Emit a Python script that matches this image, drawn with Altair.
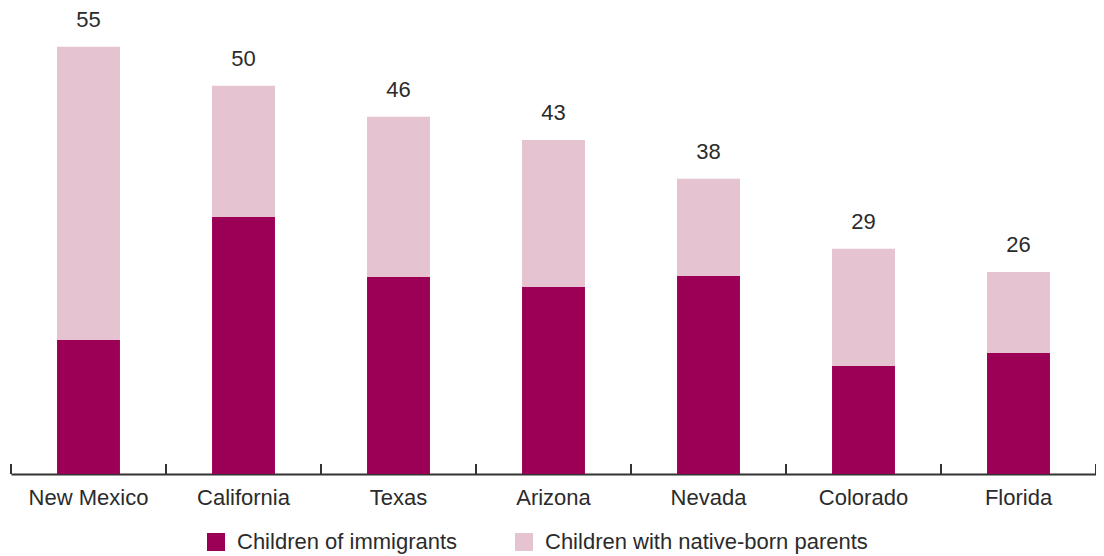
import altair as alt
import pandas as pd

states = ["New Mexico", "California", "Texas", "Arizona", "Nevada", "Colorado", "Florida"]
totals = [55, 50, 46, 43, 38, 29, 26]
immigrants = [17.3, 33.1, 25.4, 24.1, 25.5, 13.9, 15.6]
native = [37.7, 16.9, 20.6, 18.9, 12.5, 15.1, 10.4]
series = ["Children of immigrants", "Children with native-born parents"]
colors = ["#9B0056", "#E6C3D1"]

rows = []
for s, a, b in zip(states, immigrants, native):
    rows.append({"state": s, "group": series[0], "value": a, "ord": 0})
    rows.append({"state": s, "group": series[1], "value": b, "ord": 1})
df = pd.DataFrame(rows)
tot = pd.DataFrame({"state": states, "total": totals})

FONT = "Liberation Sans"
TXT = "#2b2b2b"
W, H = 1085, 466

xscale = alt.Scale(paddingInner=0, paddingOuter=0)
x = alt.X("state:N", sort=states, scale=xscale,
          axis=alt.Axis(title=None, labelAngle=0, ticks=False, labelPadding=13,
                        labelFontSize=22, labelFont=FONT, labelColor=TXT,
                        domainColor="#333333", domainWidth=2, grid=False))

bars = alt.Chart(df).mark_bar(width=alt.RelativeBandSize(0.406)).encode(
    x=x,
    y=alt.Y("value:Q", stack="zero", scale=alt.Scale(domain=[0, 59.9]), axis=None),
    color=alt.Color("group:N", scale=alt.Scale(domain=series, range=colors),
                    legend=alt.Legend(title=None, orient="none", legendX=194, legendY=523,
                                      direction="horizontal", symbolType="square",
                                      symbolSize=324, symbolStrokeWidth=0,
                                      labelFontSize=22, labelFont=FONT, labelColor=TXT,
                                      labelLimit=500, labelOffset=10, columnPadding=55)),
    order=alt.Order("ord:Q"),
)

labels = alt.Chart(tot).mark_text(dy=-20, baseline="alphabetic", fontSize=22, font=FONT, color=TXT).encode(
    x=alt.X("state:N", sort=states, scale=xscale),
    y=alt.Y("total:Q"),
    text=alt.Text("total:Q"),
)

ticks = alt.Chart(tot).mark_rule(color="#333333", strokeWidth=2).encode(
    x=alt.X("state:N", sort=states, scale=xscale, bandPosition=0),
    y=alt.value(H - 10), y2=alt.value(H),
)
tick_end = alt.Chart(tot).transform_filter(
    alt.datum.state == states[-1]
).mark_rule(color="#333333", strokeWidth=2).encode(
    x=alt.X("state:N", sort=states, scale=xscale, bandPosition=1),
    y=alt.value(H - 10), y2=alt.value(H),
)

chart = alt.layer(bars, labels, ticks, tick_end).properties(
    width=W, height=H,
    autosize=alt.AutoSizeParams(type="none"),
    padding={"left": 3, "top": 0, "right": 0, "bottom": 82},
).configure_view(strokeWidth=0)

chart.save("out.html", embed_options={"renderer": "svg", "actions": False})
